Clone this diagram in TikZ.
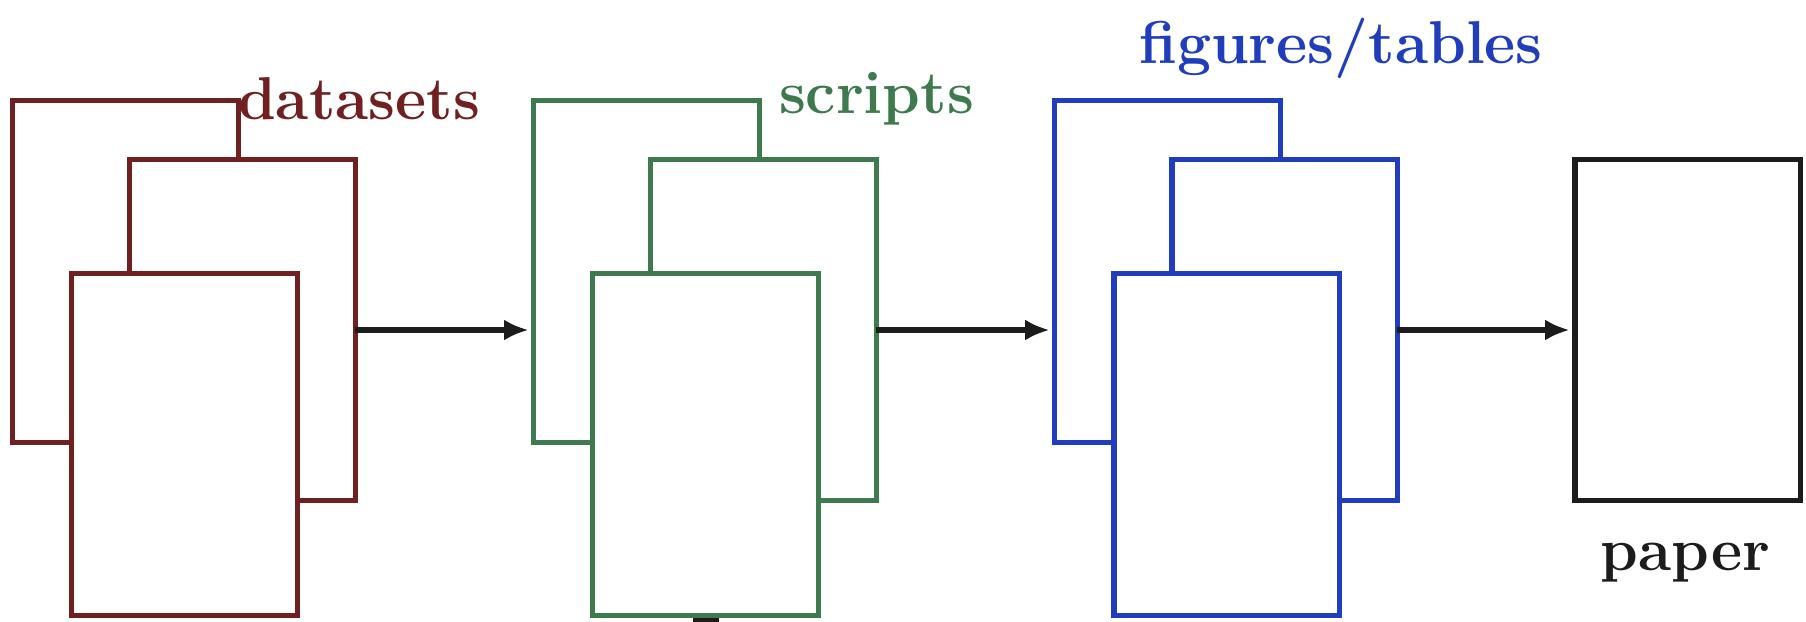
\documentclass[tikz,border=0pt]{standalone}
\usetikzlibrary{arrows.meta}
\definecolor{cred}{RGB}{112,32,32}
\definecolor{cgreen}{RGB}{62,122,78}
\definecolor{cblue}{RGB}{32,62,188}
\definecolor{cblack}{RGB}{28,28,28}
\begin{document}
\begin{tikzpicture}[x=0.01cm,y=-0.01cm,
  sheet/.style={draw=#1, fill=white, line width=1.45pt, inner sep=0pt, outer sep=0pt,
    minimum width=2.25cm, minimum height=3.41cm},
  lab/.style={text=#1, font=\fontsize{17.2}{20}\selectfont\bfseries, inner sep=0pt, anchor=base},
  conn/.style={cblack, line width=1.45pt, -{Latex[length=7pt,width=6pt]}}]
\useasboundingbox (0,0) rectangle (1806,621);
% datasets
\node[sheet=cred] (r1) at (125.5,271.5) {};
\node[sheet=cred] (r2) at (242.5,330) {};
\node[sheet=cred] (r3) at (184.5,444.5) {};
% scripts
\node[sheet=cgreen] (g1) at (646.5,271.5) {};
\node[sheet=cgreen] (g2) at (763.5,330) {};
\node[sheet=cgreen] (g3) at (705.5,444.5) {};
% figures/tables
\node[sheet=cblue] (b1) at (1167.5,271.5) {};
\node[sheet=cblue] (b2) at (1284.5,330) {};
\node[sheet=cblue] (b3) at (1226.5,444.5) {};
% paper
\node[sheet=cblack] (p) at (1687.5,330) {};
% labels
\node[lab=cred] (ld) at (359,120) {datasets};
\node[lab=cgreen] (ls) at (876.5,113) {scripts};
\node[lab=cblue] (lf) at (1341,63) {figures/tables};
\node[lab=cblack] (lp) at (1685.5,570) {paper};
% connectors
\draw[conn] (r2.east) -- ([xshift=-1.5pt]r2.east -| g1.west);
\draw[conn] (g2.east) -- ([xshift=-1.5pt]g2.east -| b1.west);
\draw[conn] (b2.east) -- ([xshift=-1.5pt]b2.east -| p.west);
% stub below scripts stack (cut off at the edge)
\coordinate (stub) at (705.5,640);
\draw[cblack, line width=0.26cm] ([yshift=-0.8pt]g3.south) -- (stub);
\end{tikzpicture}
\end{document}
